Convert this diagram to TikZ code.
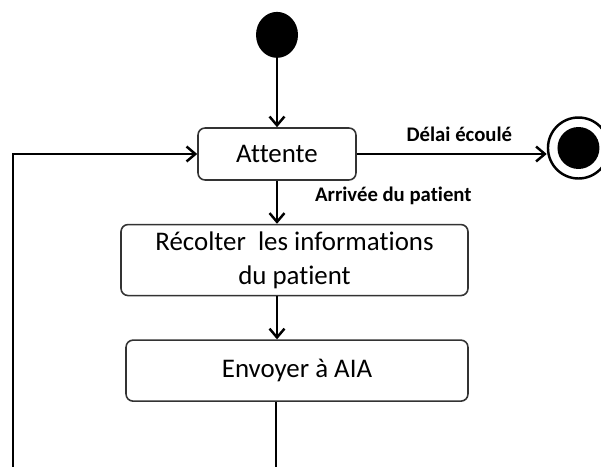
\documentclass[tikz,border=0pt]{standalone}
\usepackage{fontspec}
\setmainfont{Carlito}[Ligatures=NoCommon]
\usepackage{tikz}
\usetikzlibrary{arrows.meta,positioning,shapes.geometric}
\usepackage{xcolor}
\definecolor{stateline}{HTML}{333333}
\tikzset{
  statebox/.style={
    rounded corners=4pt,
    draw=stateline,
    fill=white,
    line width=0.9pt,
    align=center,
    font=\fontsize{15.3}{19.5}\selectfont
  },
  initstate/.style={
    ellipse,
    fill=black,
    minimum width=0.84cm,
    minimum height=0.92cm,
    inner sep=0pt
  },
  finalstate/.style={
    circle,
    draw=black,
    line width=1.4pt,
    fill=white,
    minimum size=1.22cm,
    inner sep=0pt,
    path picture={\fill[black] (path picture bounding box.center) circle (0.42cm);}
  },
  guard/.style={
    font=\fontsize{11.8}{13}\selectfont\bfseries
  },
  arrow/.style={
    -{Straight Barb[length=5pt,width=8.5pt]},
    line width=1.4pt,
    draw=black
  },
  line/.style={
    line width=1.4pt,
    draw=black
  }
}
\begin{document}
\begin{tikzpicture}[x=0.02cm, y=-0.02cm, node distance=0.86cm and 1cm]
\useasboundingbox (0,0) rectangle (601,466);
\node[statebox, minimum width=3.16cm, minimum height=1.04cm] (attente) at (277,154) {Attente};
\node[initstate, above=1.38cm of attente] (start) {};
\node[finalstate, right=3.8cm of attente, yshift=0.12cm] (final) {};
\node[statebox, minimum width=6.94cm, minimum height=1.42cm, below=of attente, xshift=0.35cm] (recolter) {R\'ecolter\ \ les informations\\du patient};
\node[statebox, minimum width=6.84cm, minimum height=1.22cm, below=of recolter, xshift=0.05cm] (envoyer) {Envoyer \`a AIA};
\coordinate (down) at (276,470);
\coordinate (back) at (13,470);
\draw[arrow] (start) -- (attente);
\draw[arrow] (attente.east) -- node[guard, above=3pt, pos=0.54] {D\'elai \'ecoul\'e} (attente.east -| final.west);
\draw[arrow] (attente) -- node[guard, right=0.62cm, pos=0.35] {Arriv\'ee du patient} (attente |- recolter.north);
\draw[arrow] (attente |- recolter.south) -- (attente |- envoyer.north);
\draw[line] (down |- envoyer.south) -- (down);
\draw[arrow] (back) |- (attente.west);
\end{tikzpicture}
\end{document}
